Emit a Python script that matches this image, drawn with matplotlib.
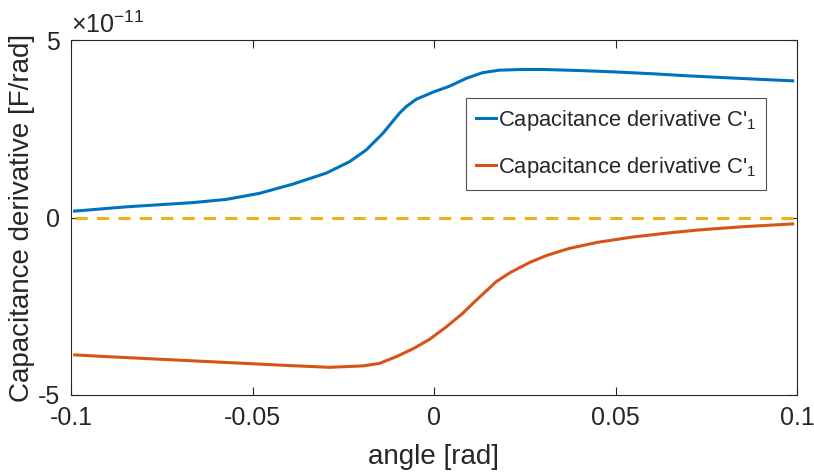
import matplotlib
matplotlib.use("Agg")
import matplotlib.pyplot as plt
import numpy as np

# data (values in units of 1e-11 F/rad)
scale = 1e-11
blue_angle = [-0.099, -0.0848, -0.0664, -0.0572, -0.0481, -0.0389, -0.0297,
              -0.0233, -0.0187, -0.0141, -0.0095, -0.0077, -0.0049,
              -0.0003, 0.0043, 0.0089, 0.0134, 0.018, 0.0244, 0.03, 0.04, 0.05, 0.06,
              0.07, 0.08, 0.09, 0.0988]
blue_vals = [0.18, 0.30, 0.42, 0.51, 0.68, 0.94, 1.25,
             1.57, 1.90, 2.37, 2.94, 3.12, 3.33,
             3.53, 3.70, 3.92, 4.08, 4.15, 4.17, 4.17, 4.14, 4.10, 4.05,
             3.99, 3.94, 3.89, 3.85]
red_angle = [-0.099, -0.09, -0.08, -0.07, -0.06, -0.05, -0.04, -0.0288, -0.0196,
             -0.015, -0.0104, -0.0058, -0.0012, 0.0034, 0.0079, 0.0107, 0.0171,
             0.021, 0.0263, 0.031, 0.0373, 0.045, 0.0547, 0.065, 0.0731, 0.085, 0.0988]
red_vals = [-3.87, -3.92, -3.97, -4.02, -4.07, -4.12, -4.17, -4.22, -4.18,
            -4.11, -3.92, -3.70, -3.43, -3.08, -2.70, -2.42, -1.81,
            -1.55, -1.27, -1.07, -0.87, -0.70, -0.55, -0.43, -0.35, -0.26, -0.18]
zero_x = [-0.099, 0.0988]
zero_y = [0.0, 0.0]
labels = [r"Capacitance derivative C$'_{1}$", r"Capacitance derivative C$'_{1}$"]
xticks = [-0.1, -0.05, 0, 0.05, 0.1]
xticklabels = ["-0.1", "-0.05", "0", "0.05", "0.1"]
yticks = [-5, 0, 5]
yticklabels = ["-5", "0", "5"]

plt.rcParams['font.family'] = ['Liberation Sans', 'DejaVu Sans']
plt.rcParams['mathtext.fontset'] = 'custom'
plt.rcParams['mathtext.rm'] = 'Liberation Sans'
plt.rcParams['mathtext.it'] = 'Liberation Sans'

fig = plt.figure(figsize=(8.14, 4.75), dpi=100)
ax = fig.add_axes([71/814, 1-395/475, (797-71)/814, (395-40)/475])

blue = '#0072BD'
red = '#D95319'
yel = '#EDB120'
ax.plot(blue_angle, np.array(blue_vals)*scale, color=blue, lw=2.2, label=labels[0])
ax.plot(red_angle, np.array(red_vals)*scale, color=red, lw=2.2, label=labels[1])
ax.plot(zero_x, zero_y, color=yel, lw=2.2, ls=(0, (4, 3)))

ax.set_xlim(-0.1, 0.1)
ax.set_ylim(-5*scale, 5*scale)
ax.set_xticks(xticks)
ax.set_xticklabels(xticklabels)
ax.set_yticks([t*scale for t in yticks])
ax.set_yticklabels(yticklabels)

tc = '#262626'
for s in ax.spines.values():
    s.set_color(tc)
    s.set_linewidth(0.8)
ax.tick_params(direction='in', top=True, right=True, length=6, width=0.8,
               colors=tc, labelsize=18, pad=8)
ax.set_xlabel('angle [rad]', fontsize=20, color=tc, labelpad=10)
ax.set_ylabel('Capacitance derivative [F/rad]', fontsize=20, color=tc, labelpad=2)
ax.text(0.0, 1.005, r'$\times$10$^{-11}$', transform=ax.transAxes, fontsize=18,
        color=tc, ha='left', va='bottom')

leg = ax.legend(loc='upper left', bbox_to_anchor=((466-71)/726, 1-(98-40)/355),
                fontsize=15.8, frameon=True, fancybox=False, handlelength=0.9,
                handletextpad=0.1, borderpad=0.45, labelspacing=1.0, borderaxespad=0)
leg.get_frame().set_edgecolor('#262626')
leg.get_frame().set_linewidth(0.8)
for t in leg.get_texts():
    t.set_color(tc)

fig.savefig('out.png', dpi=100)
